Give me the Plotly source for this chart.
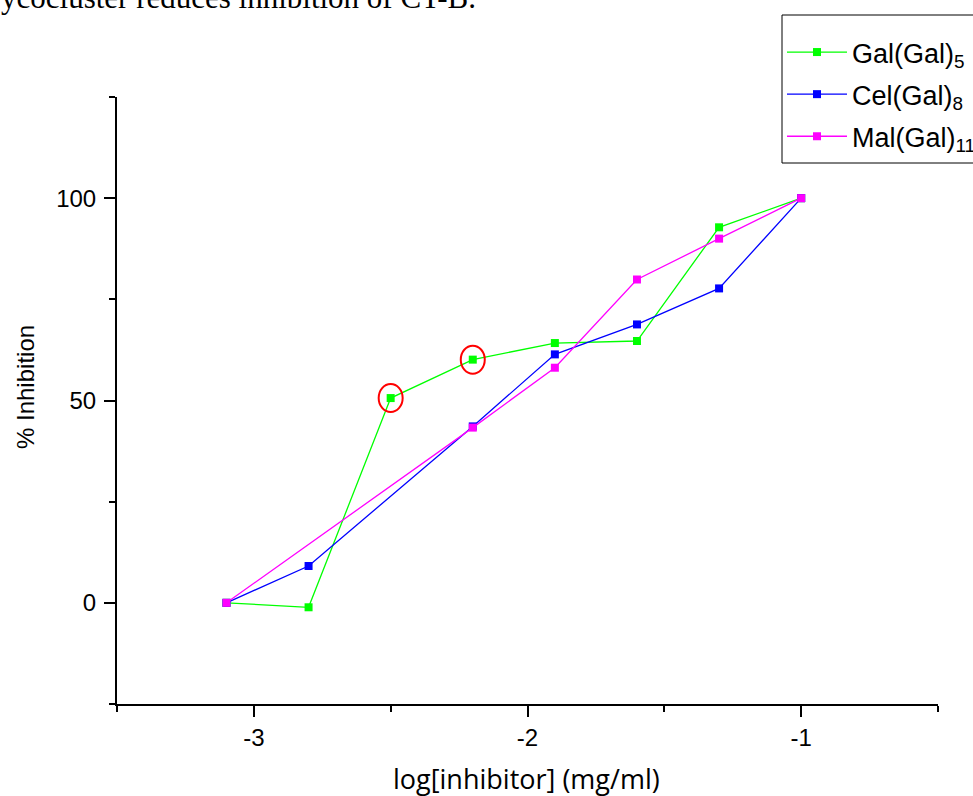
import plotly.graph_objects as go

# ---- data ----
gal_x = [-3.1, -2.8, -2.5, -2.2, -1.9, -1.6, -1.3, -1.0]
gal_y = [0.0, -1.1, 50.6, 60.1, 64.2, 64.7, 92.8, 100.0]

cel_x = [-3.1, -2.8, -2.2, -1.9, -1.6, -1.3, -1.0]
cel_y = [0.0, 9.1, 43.6, 61.4, 68.8, 77.7, 100.0]

mal_x = [-3.1, -2.2, -1.9, -1.6, -1.3, -1.0]
mal_y = [0.0, 43.3, 58.1, 79.9, 90.0, 100.0]

highlight_idx = [2, 3]  # circled Gal(Gal)5 points

x_tickvals = [-3, -2, -1]
x_ticktext = ["-3", "-2", "-1"]

names = ["Gal(Gal)<sub>5</sub>", "Cel(Gal)<sub>8</sub>", "Mal(Gal)<sub>11</sub>"]
colors = ["#00FF00", "#0000FF", "#FF00FF"]

W, H = 973, 796
ML, MR, MT, MB = 117, 35, 97, 92
PW, PH = W - ML - MR, H - MT - MB

def px_x(p):
    return (p - ML) / PW

def px_y(p):
    return (H - MB - p) / PH

fig = go.Figure()
for i, (xs, ys) in enumerate([(gal_x, gal_y), (cel_x, cel_y), (mal_x, mal_y)]):
    fig.add_trace(go.Scatter(
        x=xs, y=ys, mode="lines+markers", name=names[i],
        line=dict(color=colors[i], width=1.3),
        marker=dict(symbol="square", size=8, color=colors[i]),
        legendgroup=f"g{i}", cliponaxis=False,
    ))

for k in highlight_idx:
    fig.add_shape(type="circle", xref="x", yref="y",
                  xsizemode="pixel", ysizemode="pixel",
                  xanchor=gal_x[k], yanchor=gal_y[k],
                  x0=-12, x1=12, y0=-14, y1=14,
                  line=dict(color="#FF0000", width=2))

# legend frame
fig.add_shape(type="rect", xref="paper", yref="paper",
              x0=px_x(782), x1=px_x(1000), y0=px_y(163), y1=px_y(15),
              line=dict(color="black", width=1), fillcolor="white", layer="above")

fig.add_annotation(text="ycocluster reduces inhibition of CT-B.",
                   xref="paper", yref="paper", x=px_x(-1), y=px_y(12),
                   xanchor="left", yanchor="bottom", yshift=-5, showarrow=False,
                   font=dict(family="Liberation Serif, Times New Roman, serif", size=31, color="black"))

fig.add_annotation(text="log[inhibitor] (mg/ml)",
                   xref="paper", yref="paper", x=px_x(526), y=px_y(791),
                   xanchor="center", yanchor="bottom", yshift=-8, showarrow=False,
                   font=dict(family="Open Sans, sans-serif", size=27, color="black"))

fig.add_annotation(text="% Inhibition", textangle=-90,
                   xref="paper", yref="paper", x=px_x(25), y=px_y(387),
                   xanchor="center", yanchor="middle", showarrow=False,
                   font=dict(family="Arial, Liberation Sans, sans-serif", size=24, color="black"))

axis_font = dict(family="Arial, Liberation Sans, sans-serif", size=24, color="black")

fig.update_xaxes(
    range=[-3.5, -0.5], tickmode="array", tickvals=x_tickvals, ticktext=x_ticktext,
    showgrid=False, zeroline=False, showline=True, linecolor="black", linewidth=2,
    ticks="outside", ticklen=11, tickwidth=2, tickcolor="black", tickfont=axis_font,
    minor=dict(dtick=0.5, tick0=-3.5, ticks="outside", ticklen=6, tickwidth=2, tickcolor="black", showgrid=False),
    automargin=False,
)
fig.update_yaxes(
    range=[-25, 125], dtick=50, tick0=0,
    showgrid=False, zeroline=False, showline=True, linecolor="black", linewidth=2,
    ticks="outside", ticklen=11, tickwidth=2, tickcolor="black", tickfont=axis_font,
    ticklabelstandoff=3,
    minor=dict(dtick=25, tick0=-25, ticks="outside", ticklen=6, tickwidth=2, tickcolor="black", showgrid=False),
    automargin=False,
)

fig.update_layout(
    width=W, height=H,
    margin=dict(l=ML, r=MR, t=MT, b=MB, autoexpand=False),
    paper_bgcolor="white", plot_bgcolor="white",
    showlegend=True,
    legend=dict(x=px_x(782), y=px_y(28), xanchor="left", yanchor="top",
                bgcolor="rgba(0,0,0,0)", borderwidth=0,
                font=dict(family="Arial, Liberation Sans, sans-serif", size=27, color="black"),
                itemwidth=60, tracegroupgap=4),
)

fig.write_html("out.html")
